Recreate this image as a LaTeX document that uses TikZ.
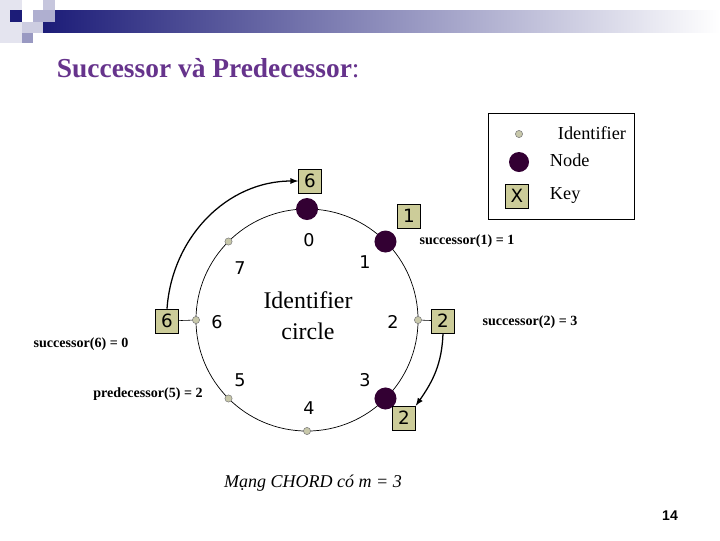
\documentclass[tikz,border=0pt]{standalone}
\usepackage{fontspec}
\setmainfont{Liberation Serif}
\newfontfamily\digitfont{DejaVu Sans}
\newfontfamily\pagefont{Liberation Sans}
\definecolor{barnavy}{RGB}{28,28,120}
\definecolor{titlepurple}{RGB}{102,51,140}
\definecolor{peerfill}{RGB}{51,0,51}
\definecolor{identfill}{RGB}{200,200,170}
\definecolor{keyfill}{RGB}{204,204,153}

\begin{document}
\begin{tikzpicture}[x=0.025cm,y=0.025cm,
	ident/.style={circle,draw=gray,fill=identfill,inner sep=0pt,minimum size=0.18cm},
	peer/.style={circle,fill=peerfill,inner sep=0pt,minimum size=0.55cm},
	keybox/.style={draw,fill=keyfill,inner sep=0pt,minimum width=0.575cm,minimum height=0.6cm,font=\digitfont\fontsize{13}{13}\selectfont},
	num/.style={font=\digitfont\fontsize{12.5}{13}\selectfont},
	note/.style={font=\bfseries\fontsize{10}{12}\selectfont},
	legend/.style={anchor=west,font=\fontsize{13}{14}\selectfont}]
	\useasboundingbox (0,0) rectangle (720,-540);
	% header
	\fill[barnavy!12] (0,0) rectangle (22,-43);
	\shade[left color=barnavy,right color=white] (43,-10) rectangle (720,-32);
	\fill[barnavy!25] (43,0) rectangle (55,-10);
	\fill[barnavy!35] (33,-10) rectangle (55,-22);
	\fill[barnavy] (10,-10) rectangle (22,-22);
	\fill[barnavy!22] (22,-22) rectangle (43,-33);
	\fill[barnavy!45] (22,-33) rectangle (33,-43);
	\node[anchor=west,text=titlepurple,font=\fontsize{19.5}{22}\selectfont] (title) at (52,-68) {{\bfseries Successor và Predecessor}:};
	% ring
	\coordinate (c) at (307,-320);
	\draw[line width=0.5pt] (c) circle[radius=2.775cm];
	\node[peer] (n0) at ([shift={(90:111)}]c) {};
	\node[peer] (n1) at ([shift={(45:111)}]c) {};
	\node[ident] (i2) at ([shift={(0:111)}]c) {};
	\node[peer] (n3) at ([shift={(-45:111)}]c) {};
	\node[ident] (i4) at ([shift={(-90:111)}]c) {};
	\node[ident] (i5) at ([shift={(-135:111)}]c) {};
	\node[ident] (i6) at ([shift={(180:111)}]c) {};
	\node[ident] (i7) at ([shift={(135:111)}]c) {};
	\node[num] (l0) at (309,-240) {0};
	\node[num] (l1) at (365,-262) {1};
	\node[num] (l2) at (393,-322) {2};
	\node[num] (l3) at (365,-380) {3};
	\node[num] (l4) at (309,-408) {4};
	\node[num] (l5) at (240,-380) {5};
	\node[num] (l6) at (217,-322) {6};
	\node[num] (l7) at (240,-268) {7};
	\node[align=center,font=\fontsize{17}{22}\selectfont] (ring) at (308,-316) {Identifier\\circle};
	% keys
	\node[keybox] (k6t) at (310,-181) {6};
	\node[keybox] (k1) at (409,-216) {1};
	\node[keybox] (k6l) at (167,-321) {6};
	\node[keybox] (k2r) at (443,-321) {2};
	\node[keybox] (k2b) at (404,-418) {2};
	\draw (k6l) -- (i6);
	\draw (i2) -- (k2r);
	\draw[->,>=latex,line width=0.9pt] (k6l.north) to[out=86,in=180] (k6t.west);
	\draw[->,>=latex,line width=0.9pt] (k2r.south) to[out=-92,in=55] (k2b.north east);
	\node[note] (s1) at (467,-241) {successor(1) = 1};
	\node[note] (s6) at (81,-344) {successor(6) = 0};
	\node[note] (p5) at (148,-394) {predecessor(5) = 2};
	\node[note] (s2) at (530,-322) {successor(2) = 3};
	% legend
	\draw[line width=0.5pt] (488,-113) rectangle (634,-219);
	\node[ident] (gi) at (519,-134) {};
	\node[legend] (gti) at (553,-133) {Identifier};
	\node[peer,minimum size=0.5cm] (gn) at (519,-162) {};
	\node[legend] (gtn) at (545,-160) {Node};
	\node[keybox] (gk) at (517,-196) {X};
	\node[legend] (gtk) at (545,-195) {Key};
	% footer
	\node[font=\itshape\fontsize{12.8}{14}\selectfont] (cap) at (313,-483) {Mạng CHORD có m = 3};
	\node[font=\pagefont\bfseries\fontsize{10}{12}\selectfont] (page) at (670,-516) {14};
\end{tikzpicture}
\end{document}
